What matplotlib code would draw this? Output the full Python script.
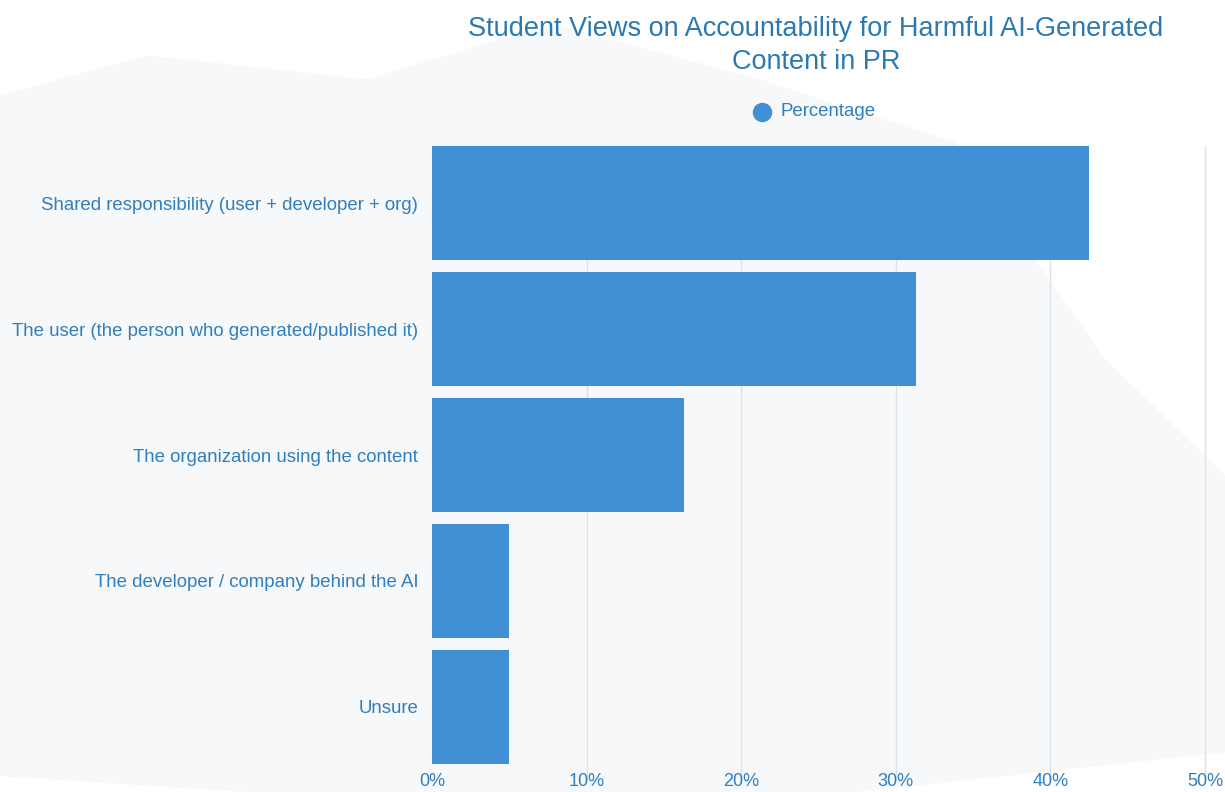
import matplotlib.pyplot as plt
from matplotlib.lines import Line2D
from matplotlib.ticker import FuncFormatter

# Chart data
categories = [
    'Shared responsibility (user + developer + org)',
    'The user (the person who generated/published it)',
    'The organization using the content',
    'The developer / company behind the AI',
    'Unsure',
]
percentages = [42.5, 31.3, 16.3, 5.0, 5.0]
x_ticks = [0, 10, 20, 30, 40, 50]

bar_color = '#4190d6'
text_color = '#2f7fbf'
title_color = '#2b79b3'

plt.rcParams['font.family'] = ['Liberation Sans', 'DejaVu Sans']

fig = plt.figure(figsize=(12.25, 7.92), dpi=100, facecolor='white')

# faint grey backdrop shape like the original image, behind everything
bg_ax = fig.add_axes([0, 0, 1, 1], zorder=-5)
bg_ax.set_xlim(0, 1)
bg_ax.set_ylim(0, 1)
bg_ax.axis('off')
bg_ax.fill([0, 0, 0.12, 0.3, 0.45, 0.62, 0.78, 0.9, 1.0, 1.0, 0.7, 0.2],
           [0.02, 0.88, 0.93, 0.9, 0.97, 0.9, 0.82, 0.55, 0.4, 0.05, 0.0, 0.0],
           color='#f7f8f9', linewidth=0)

ax = fig.add_axes([0.3527, 0.028, 0.631, 0.795])
ax.set_facecolor('none')

y = list(range(len(categories)))
ax.barh(y, percentages, height=0.9, color=bar_color, zorder=3)

ax.set_ylim(len(categories) - 0.5, -0.5)
ax.set_xlim(0, 50)
ax.set_xticks(x_ticks)
ax.xaxis.set_major_formatter(FuncFormatter(lambda v, p: f'{int(v)}%'))
ax.set_yticks(y)
ax.set_yticklabels(categories)

ax.tick_params(axis='y', length=0, pad=10, labelsize=13.4, labelcolor=text_color)
ax.tick_params(axis='x', length=0, pad=2, labelsize=13, labelcolor=text_color)

for spine in ax.spines.values():
    spine.set_visible(False)

for t in x_ticks[1:]:
    ax.axvline(t, ymin=-0.015, ymax=0.99, color='#dce3e9', linewidth=1,
               zorder=1, clip_on=False)

fig.text(0.666, 0.98, 'Student Views on Accountability for Harmful AI-Generated\nContent in PR',
         ha='center', va='top', fontsize=19.5, color=title_color, linespacing=1.35)

# legend
fig.add_artist(Line2D([762 / 1225], [1 - 112 / 792], marker='o', markersize=13,
                      color=bar_color, linestyle='none', transform=fig.transFigure))
fig.text(780 / 1225, 1 - 112 / 792, 'Percentage', ha='left', va='center',
         fontsize=13.4, color=text_color)

plt.savefig('out.png', dpi=100, facecolor=fig.get_facecolor())
plt.close()
